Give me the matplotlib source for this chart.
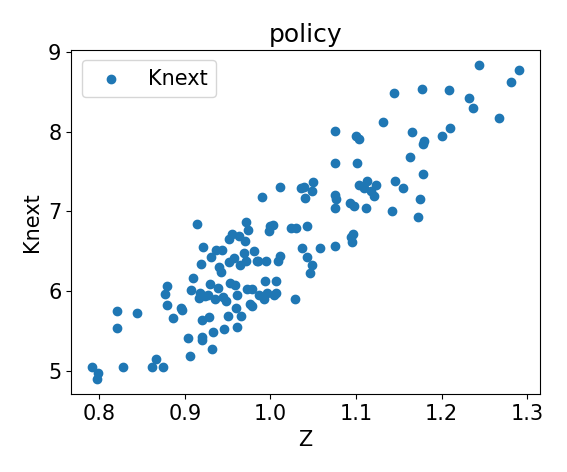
import matplotlib
matplotlib.use("Agg")
import matplotlib.pyplot as plt

Z = [0.792,0.797,0.799,0.821,0.821,0.828,0.844,0.861,0.866,0.875,0.877,0.879,0.879,0.886,0.895,0.897,
     0.904,0.906,0.907,0.909,0.914,0.916,0.918,0.919,0.920,0.920,0.920,0.921,0.923,0.927,0.928,0.929,
     0.931,0.932,0.933,0.935,0.936,0.939,0.940,0.942,0.943,0.944,0.946,0.948,0.950,0.951,0.952,0.953,
     0.955,0.957,0.959,0.960,0.961,0.961,0.963,0.965,0.966,0.969,0.970,0.971,0.972,0.973,0.974,0.976,
     0.978,0.979,0.981,0.984,0.985,0.987,0.990,0.992,0.994,0.995,0.996,0.998,0.999,1.003,1.004,1.006,
     1.007,1.009,1.011,1.011,1.024,1.029,1.030,1.036,1.037,1.039,1.040,1.043,1.043,1.046,1.048,1.048,
     1.050,1.058,1.076,1.076,1.076,1.076,1.076,1.077,1.093,1.094,1.095,1.096,1.098,1.100,1.101,1.103,
     1.104,1.109,1.112,1.113,1.118,1.121,1.123,1.132,1.142,1.144,1.145,1.155,1.163,1.165,1.173,1.175,
     1.177,1.178,1.178,1.179,1.200,1.209,1.210,1.232,1.237,1.244,1.267,1.281,1.290]
Knext = [5.04,4.90,4.97,5.75,5.53,5.05,5.72,5.05,5.15,5.05,5.96,6.06,5.82,5.66,5.79,5.76,
         5.41,5.18,6.01,6.16,6.84,5.91,5.98,6.34,5.64,5.39,5.42,6.55,5.94,5.95,5.67,6.09,
         6.42,5.27,5.49,5.90,6.52,6.04,6.30,6.24,6.52,5.93,5.52,5.87,5.68,6.65,6.36,6.10,
         6.71,6.41,6.08,5.79,5.95,5.55,6.69,6.32,5.68,6.47,6.63,6.37,6.86,6.03,6.76,5.84,
         5.81,6.03,6.50,6.37,6.38,5.95,7.18,5.90,6.13,6.37,5.97,6.75,6.82,6.83,5.95,5.97,
         6.13,6.38,6.44,7.31,6.79,5.90,6.79,7.29,6.54,7.31,7.17,6.82,6.43,6.23,6.32,7.26,
         7.37,6.54,6.57,7.04,7.21,8.01,7.61,7.15,7.11,6.68,6.61,6.71,7.06,7.95,7.60,7.33,
         7.91,7.29,7.04,7.38,7.26,7.19,7.33,8.12,7.00,8.48,7.38,7.29,7.68,7.99,6.93,7.15,
         8.54,7.84,7.47,7.88,7.94,8.52,8.04,8.42,8.30,8.83,8.17,8.62,8.77]

plt.rcParams['font.size'] = 15
fig, ax = plt.subplots(figsize=(5.67, 4.72), dpi=100)
ax.scatter(Z, Knext, label="Knext")
ax.set_xlabel("Z")
ax.set_ylabel("Knext")
ax.set_title("policy")
ax.legend(loc="upper left")
fig.tight_layout()
fig.savefig("out.png", dpi=100)
